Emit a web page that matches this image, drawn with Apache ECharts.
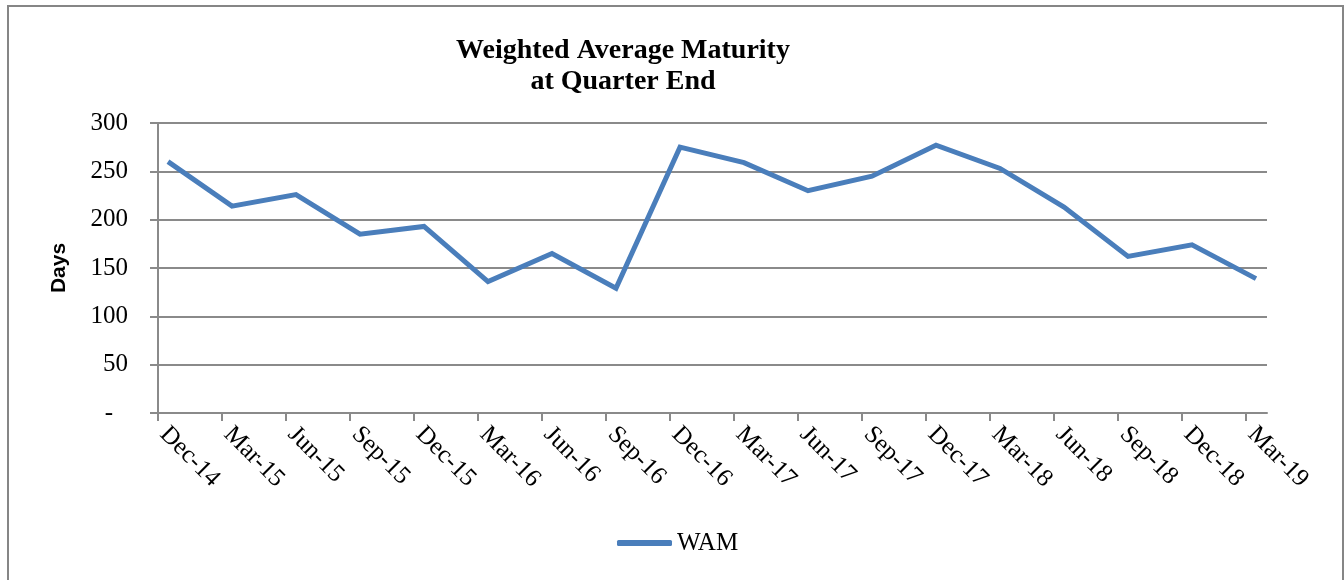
<!DOCTYPE html>
<html>
<head>
<meta charset="utf-8">
<title>Weighted Average Maturity</title>
<script src="https://cdn.jsdelivr.net/npm/echarts@6/dist/echarts.min.js"></script>
<style>
  html, body { margin: 0; padding: 0; background: #fff; }
  #chart { width: 1344px; height: 580px; }
</style>
</head>
<body>
<div id="chart"></div>
<script>
const quarters = ['Dec-14', 'Mar-15', 'Jun-15', 'Sep-15', 'Dec-15', 'Mar-16', 'Jun-16', 'Sep-16', 'Dec-16',
  'Mar-17', 'Jun-17', 'Sep-17', 'Dec-17', 'Mar-18', 'Jun-18', 'Sep-18', 'Dec-18', 'Mar-19'];
const wam = [260, 214, 226, 185, 193, 136, 165, 129, 275, 259, 230, 245, 277, 253, 213, 162, 174, 139];
const yTicks = [0, 50, 100, 150, 200, 250, 300];

// Excel puts the points a little right of each tick mark
const tickShift = 10 / 64;
const tickSpots = quarters.map((q, i) => i - tickShift);

const gray = '#8a8a8a';
const serif = '"Liberation Serif", "Times New Roman", serif';

const chart = echarts.init(document.getElementById('chart'));

chart.setOption({
  backgroundColor: '#fff',
  animation: false,
  title: {
    text: 'Weighted Average Maturity\nat Quarter End',
    left: 618,
    top: 30,
    textAlign: 'center',
    textStyle: { fontFamily: serif, fontWeight: 'bold', fontSize: 28, lineHeight: 31, color: '#000' },
  },
  legend: {
    left: 612,
    top: 525,
    icon: 'roundRect',
    itemWidth: 55,
    itemHeight: 6,
    textStyle: { fontFamily: serif, fontSize: 25, lineHeight: 26, color: '#000' },
  },
  grid: { left: 158, right: 77, top: 123, bottom: 167 },
  xAxis: {
    type: 'value',
    min: -tickShift,
    max: quarters.length - 1 + 11 / 64,
    splitLine: { show: false },
    axisLine: { onZero: false, lineStyle: { color: gray, width: 2 } },
    axisTick: { show: true, customValues: tickSpots, length: 8, lineStyle: { color: gray, width: 2 } },
    axisLabel: {
      customValues: tickSpots,
      rotate: -45,
      margin: 12,
      padding: [0, 0, 0, 8],
      fontFamily: serif,
      fontSize: 25,
      color: '#000',
      formatter: v => quarters[Math.round(v + tickShift)] || '',
    },
  },
  yAxis: {
    type: 'value',
    min: yTicks[0],
    max: yTicks[yTicks.length - 1],
    interval: 50,
    name: 'Days',
    nameLocation: 'middle',
    nameGap: 88,
    nameTextStyle: { fontFamily: '"Liberation Sans", Arial, sans-serif', fontWeight: 'bold', fontSize: 21, color: '#000' },
    axisLine: { show: true, onZero: false, lineStyle: { color: gray, width: 2 } },
    axisTick: { show: true, length: 8, lineStyle: { color: gray, width: 2 } },
    splitLine: { lineStyle: { color: gray, width: 2 } },
    axisLabel: {
      margin: 30,
      fontFamily: serif,
      fontSize: 25,
      color: '#000',
      formatter: v => (v === 0 ? '{d|-}' : String(v)),
      rich: { d: { fontFamily: serif, fontSize: 25, color: '#000', padding: [0, 15, 0, 0] } },
    },
  },
  graphic: [{
    type: 'rect',
    shape: { x: 8, y: 6, width: 1335, height: 600 },
    style: { fill: 'none', stroke: '#868686', lineWidth: 2 },
    silent: true,
  }],
  series: [{
    name: 'WAM',
    type: 'line',
    data: wam.map((v, i) => [i, v]),
    showSymbol: false,
    color: '#4a7ebb',
    lineStyle: { color: '#4a7ebb', width: 5, join: 'miter' },
  }],
});

window.addEventListener('resize', () => chart.resize());
</script>
</body>
</html>
